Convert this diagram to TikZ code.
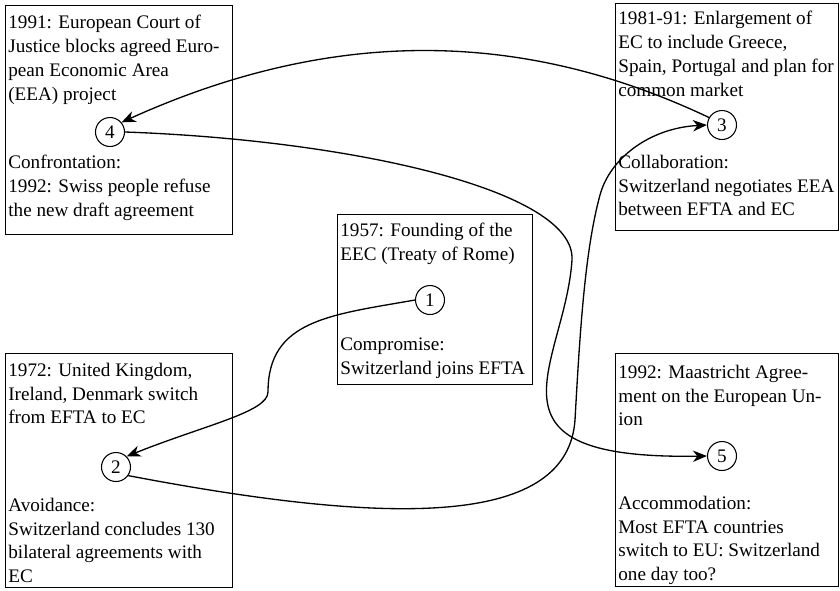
\documentclass[tikz,border=0pt]{standalone}
\usepackage{fontspec}
\setmainfont{Liberation Serif}
\usetikzlibrary{arrows.meta, positioning}

\tikzset{
	box/.style={draw, line width=0.7pt, anchor=north west, inner sep=0pt},
	txt/.style={anchor=north west, align=left, inner sep=0pt, font=\fontsize{10.9}{13.6}\selectfont},
	num/.style={draw, circle, line width=0.6pt, minimum size=0.58cm, inner sep=0pt, font=\fontsize{10.9}{13.6}\selectfont},
	link/.style={line width=0.75pt, -{Stealth[length=8pt, width=6.5pt, inset=2.5pt]}}
}

\begin{document}
\begin{tikzpicture}
		\useasboundingbox (0,0) rectangle (16.8,-11.8);

		% Frames
		\node[box, minimum width=4.54cm, minimum height=4.58cm] (frame4) at (0.1,-0.1) {};
		\node[box, minimum width=4.46cm, minimum height=4.54cm] (frame3) at (12.3,-0.06) {};
		\node[box, minimum width=3.9cm, minimum height=3.4cm] (frame1) at (6.74,-4.28) {};
		\node[box, minimum width=4.54cm, minimum height=4.68cm] (frame2) at (0.1,-7.06) {};
		\node[box, minimum width=4.46cm, minimum height=4.66cm] (frame5) at (12.3,-7.06) {};

		% Events and reactions
		\node[txt] (event4) at (0.16,-0.29) {1991: European Court of\\Justice blocks agreed Euro-\\pean Economic Area\\(EEA) project};
		\node[txt] (react4) at (0.16,-3.09) {Confrontation:\\1992: Swiss people refuse\\the new draft agreement};
		\node[txt] (event3) at (12.36,-0.21) {1981-91: Enlargement of\\EC to include Greece,\\Spain, Portugal and plan for\\common market};
		\node[txt] (react3) at (12.36,-3.09) {Collaboration:\\Switzerland negotiates EEA\\between EFTA and EC};
		\node[txt] (event1) at (6.8,-4.45) {1957: Founding of the\\EEC (Treaty of Rome)};
		\node[txt] (react1) at (6.8,-6.75) {Compromise:\\Switzerland joins EFTA};
		\node[txt] (event2) at (0.16,-7.25) {1972: United Kingdom,\\Ireland, Denmark switch\\from EFTA to EC};
		\node[txt] (react2) at (0.16,-9.95) {Avoidance:\\Switzerland concludes 130\\bilateral agreements with\\EC};
		\node[txt] (event5) at (12.36,-7.29) {1992: Maastricht Agree-\\ment on the European Un-\\ion};
		\node[txt] (react5) at (12.36,-9.91) {Accommodation:\\Most EFTA countries\\switch to EU: Switzerland\\one day too?};

		% Numbered steps
		\node[num] (s1) at (8.6,-6.0) {1};
		\node[num] (s2) at (2.32,-9.34) {2};
		\node[num] (s3) at (14.44,-2.5) {3};
		\node[num] (s4) at (2.2,-2.64) {4};
		\node[num] (s5) at (14.44,-9.12) {5};

		% Sequence
		\draw[link] (s1.west) .. controls (6.6,-6.3) and (5.36,-6.4) .. (5.36,-7.84)
			.. controls (5.36,-8.24) and (4.1,-8.5) .. (s2.north east);
		\draw[link] (s2.-35) .. controls (8.0,-10.55) and (11.35,-10.5) .. (11.5,-8.4)
			.. controls (11.6,-6.6) and (11.7,-5.0) .. (12.0,-3.9)
			.. controls (12.2,-3.16) and (13.0,-2.56) .. (s3.west);
		\draw[link] (s3.150) .. controls (10.4,-0.56) and (6.6,-0.56) .. (s4.40);
		\draw[link] (s4.east) .. controls (7.0,-2.8) and (11.52,-3.8) .. (11.44,-5.2)
			.. controls (11.3,-7.3) and (9.4,-9.2) .. (s5.west);
	\end{tikzpicture}
\end{document}
